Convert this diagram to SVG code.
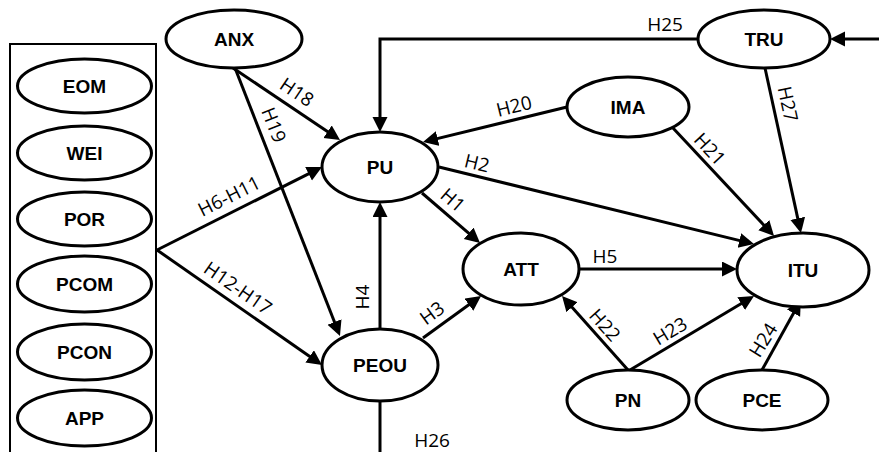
<svg xmlns="http://www.w3.org/2000/svg" width="879" height="452" viewBox="0 0 879 452">
<style>
.n ellipse{fill:#fff;stroke:#000;stroke-width:3}
.n text{font-family:"Liberation Sans",Arial,sans-serif;font-weight:bold;font-size:19px;text-anchor:middle;fill:#000}
.e path{fill:none;stroke:#000;stroke-width:3}
.a{marker-end:url(#arr)}
.l{font-family:"Open Sans","DejaVu Sans",sans-serif;font-size:19px;text-anchor:middle;fill:#000}
</style>
<defs>
<marker id="arr" markerUnits="userSpaceOnUse" markerWidth="16" markerHeight="16" refX="11" refY="7.5" orient="auto" viewBox="0 0 16 16">
<path d="M0,0 L15,7.5 L0,15 z" fill="#000"/>
</marker>
</defs>
<rect width="879" height="452" fill="#fff"/>
<rect id="box" x="10" y="44" width="146" height="420" fill="none" stroke="#000" stroke-width="2"/>
<g id="connectors" class="e">
<path class="a" d="M698,39 H380 V128"/>
<path class="a" d="M879,39 H834"/>
<path class="a" d="M233,68 L336.7,137.8"/>
<path class="a" d="M235,68 L338.5,332.3"/>
<path class="a" d="M157,250 L318.4,168.8"/>
<path class="a" d="M157,250 L318.7,362.7"/>
<path class="a" d="M380,329 V206"/>
<path class="a" d="M422,193 L477,240.4"/>
<path class="a" d="M423,338 L477.8,298.3"/>
<path class="a" d="M439,167 L750.1,243.1"/>
<path class="a" d="M567,107 L426.9,141.1"/>
<path class="a" d="M673,128 L771.3,233.1"/>
<path class="a" d="M765,68 L800.1,229.1"/>
<path class="a" d="M579,269 H733"/>
<path class="a" d="M628,370 L564.7,299"/>
<path class="a" d="M630,370 L750.6,298"/>
<path class="a" d="M762,370 L798.9,303.6"/>
<path d="M380,401 V452"/>
</g>
<g id="labels">
<text class="l" x="665" y="24.5" dy=".36em">H25</text>
<text class="l" transform="translate(297,92) rotate(34)" dy=".36em">H18</text>
<text class="l" transform="translate(274,125) rotate(68.6)" dy=".36em">H19</text>
<text class="l" transform="translate(229,196) rotate(-26.7)" dy=".36em">H6-H11</text>
<text class="l" transform="translate(238,288) rotate(34.7)" dy=".36em">H12-H17</text>
<text class="l" transform="translate(362,297) rotate(-90)" dy=".36em">H4</text>
<text class="l" transform="translate(432,313) rotate(-36)" dy=".36em">H3</text>
<text class="l" transform="translate(453,200) rotate(40.8)" dy=".36em">H1</text>
<text class="l" transform="translate(477,163) rotate(13.6)" dy=".36em">H2</text>
<text class="l" transform="translate(514,106) rotate(-13.7)" dy=".36em">H20</text>
<text class="l" transform="translate(710,149) rotate(47)" dy=".36em">H21</text>
<text class="l" transform="translate(788,104) rotate(77.7)" dy=".36em">H27</text>
<text class="l" x="605" y="256" dy=".36em">H5</text>
<text class="l" transform="translate(605,325) rotate(48.3)" dy=".36em">H22</text>
<text class="l" transform="translate(670,331) rotate(-30.8)" dy=".36em">H23</text>
<text class="l" transform="translate(763,340) rotate(-58.2)" dy=".36em">H24</text>
<text class="l" x="432" y="440" dy=".36em">H26</text>
</g>
<g id="EOM" class="n"><ellipse cx="84.5" cy="86" rx="67" ry="27"/><text x="84.5" y="86" dy=".36em">EOM</text></g>
<g id="WEI" class="n"><ellipse cx="84.5" cy="153" rx="67" ry="27"/><text x="84.5" y="153" dy=".36em">WEI</text></g>
<g id="POR" class="n"><ellipse cx="84.5" cy="219" rx="67" ry="27"/><text x="84.5" y="219" dy=".36em">POR</text></g>
<g id="PCOM" class="n"><ellipse cx="84.5" cy="284" rx="67" ry="28"/><text x="84.5" y="284" dy=".36em">PCOM</text></g>
<g id="PCON" class="n"><ellipse cx="84.5" cy="352" rx="67" ry="28"/><text x="84.5" y="352" dy=".36em">PCON</text></g>
<g id="APP" class="n"><ellipse cx="84.5" cy="418" rx="67" ry="28"/><text x="84.5" y="418" dy=".36em">APP</text></g>
<g id="ANX" class="n"><ellipse cx="234" cy="39" rx="68" ry="29"/><text x="234" y="39" dy=".36em">ANX</text></g>
<g id="TRU" class="n"><ellipse cx="764" cy="39" rx="66" ry="29"/><text x="764" y="39" dy=".36em">TRU</text></g>
<g id="IMA" class="n"><ellipse cx="628" cy="107" rx="61" ry="30"/><text x="628" y="107" dy=".36em">IMA</text></g>
<g id="PU" class="n"><ellipse cx="380" cy="167" rx="58" ry="35"/><text x="380" y="167" dy=".36em">PU</text></g>
<g id="ATT" class="n"><ellipse cx="521" cy="269" rx="58" ry="36"/><text x="521" y="269" dy=".36em">ATT</text></g>
<g id="ITU" class="n"><ellipse cx="803" cy="270" rx="66" ry="37"/><text x="803" y="270" dy=".36em">ITU</text></g>
<g id="PEOU" class="n"><ellipse cx="380" cy="365" rx="58" ry="36"/><text x="380" y="365" dy=".36em">PEOU</text></g>
<g id="PN" class="n"><ellipse cx="628" cy="400" rx="61" ry="30"/><text x="628" y="400" dy=".36em">PN</text></g>
<g id="PCE" class="n"><ellipse cx="762" cy="400" rx="66" ry="30"/><text x="762" y="400" dy=".36em">PCE</text></g>
</svg>
